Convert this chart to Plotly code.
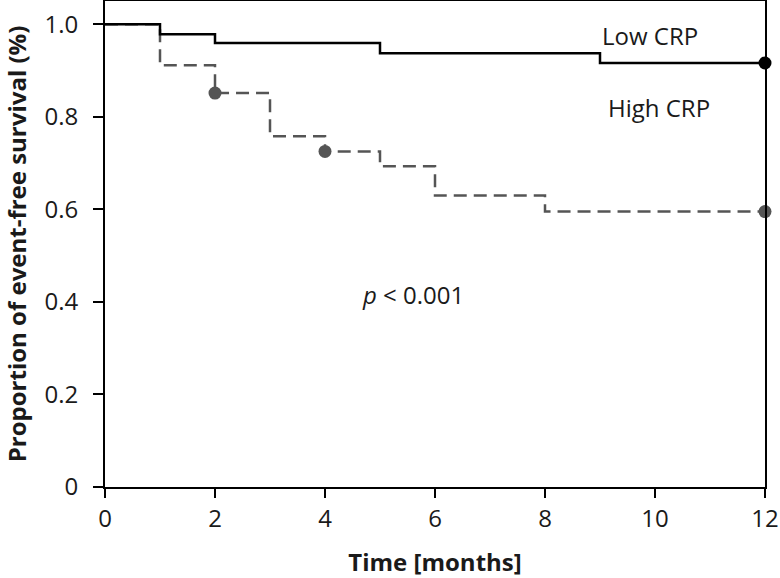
import plotly.graph_objects as go

# Data
low_time = [0, 1, 2, 5, 9, 12]
low_surv = [1.0, 0.978, 0.959, 0.937, 0.916, 0.916]
high_time = [0, 1, 2, 3, 4, 5, 6, 8, 12]
high_surv = [1.0, 0.911, 0.851, 0.758, 0.725, 0.693, 0.630, 0.595, 0.595]
low_cens_time = [12]
low_cens_surv = [0.916]
high_cens_time = [2, 4, 12]
high_cens_surv = [0.851, 0.725, 0.595]
x_ticks = [0, 2, 4, 6, 8, 10, 12]
y_ticks = [0, 0.2, 0.4, 0.6, 0.8, 1.0]
y_ticktext = ["0", "0.2", "0.4", "0.6", "0.8", "1.0"]

FONT = "Open Sans"
gray = "#555555"
txt = "#1a1a1a"

fig = go.Figure()
fig.add_trace(go.Scatter(x=high_time, y=high_surv, mode="lines", line_shape="hv",
                         line=dict(color=gray, width=2.5, dash="13px,7px"), showlegend=False))
fig.add_trace(go.Scatter(x=low_time, y=low_surv, mode="lines", line_shape="hv",
                         line=dict(color="black", width=2.5), showlegend=False))
fig.add_trace(go.Scatter(x=high_cens_time, y=high_cens_surv, mode="markers",
                         marker=dict(color=gray, size=13), showlegend=False, cliponaxis=False))
fig.add_trace(go.Scatter(x=low_cens_time, y=low_cens_surv, mode="markers",
                         marker=dict(color="black", size=13), showlegend=False, cliponaxis=False))

fig.add_annotation(x=9.91, y=0.976, text="Low CRP", showarrow=False,
                   font=dict(family=FONT, size=24, color=txt))
fig.add_annotation(x=10.07, y=0.819, text="High CRP", showarrow=False,
                   font=dict(family=FONT, size=24, color=txt))
fig.add_annotation(x=5.60, y=0.415, text="<i>p</i> < 0.001", showarrow=False,
                   font=dict(family=FONT, size=24, color=txt))

fig.update_layout(
    width=780, height=578,
    margin=dict(l=105, r=15, t=1, b=91, autoexpand=False),
    plot_bgcolor="white", paper_bgcolor="white",
    font=dict(family=FONT, size=24, color=txt),
)
fig.update_xaxes(range=[0, 12], tickvals=x_ticks, showline=True, linecolor="black",
                 linewidth=2, mirror=True, ticks="outside", ticklen=9, tickwidth=2,
                 tickcolor="black", showgrid=False, zeroline=False, automargin=False,
                 ticklabeloverflow="allow",
                 title=dict(text="<b>Time [months]</b>", font=dict(size=24), standoff=22))
fig.update_yaxes(range=[0, 1.05], tickvals=y_ticks, ticktext=y_ticktext, showline=True,
                 linecolor="black", linewidth=2, mirror=True, ticks="outside", ticklen=10,
                 tickwidth=2, tickcolor="black", showgrid=False, zeroline=False,
                 automargin=False, ticklabelstandoff=10,
                 title=dict(text="<b>Proportion of event-free survival (%)</b>",
                            font=dict(size=24), standoff=12))

fig.write_html("out.html", config={"displayModeBar": False},
               post_script="document.body.style.margin='0px';")
